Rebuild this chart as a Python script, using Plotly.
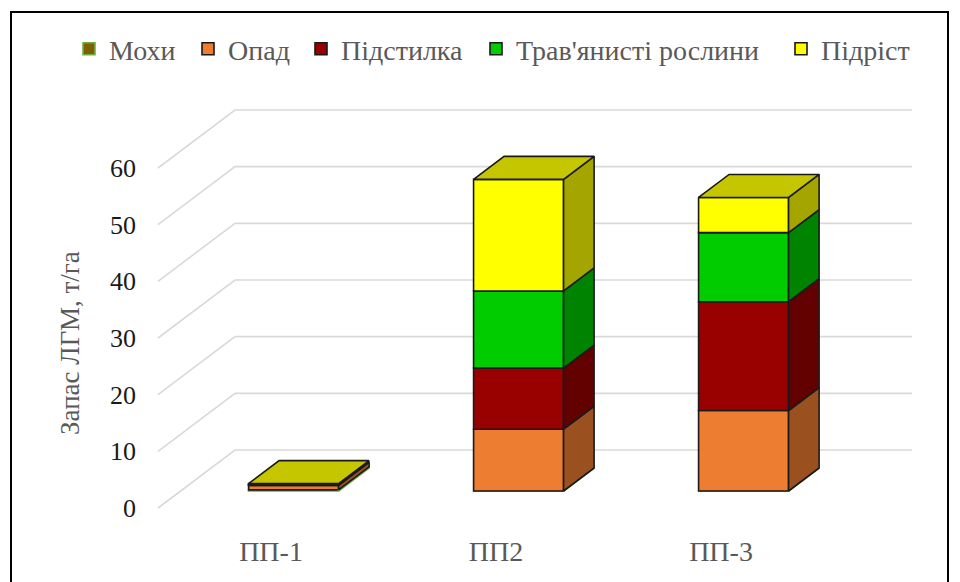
import plotly.graph_objects as go

# ---------------- data ----------------
categories = ["ПП-1", "ПП2", "ПП-3"]
series_names = ["Мохи", "Опад", "Підстилка", "Трав'янисті рослини", "Підріст"]
mokhy = [0.2, 0.0, 0.0]
opad = [0.8, 10.9, 14.2]
pidstylka = [0.1, 10.8, 19.2]
travy = [0.1, 13.6, 12.2]
pidrist = [0.1, 19.7, 6.2]
y_ticks = [0, 10, 20, 30, 40, 50, 60]
y_title = "Запас ЛГМ, т/га"

series_values = [mokhy, opad, pidstylka, travy, pidrist]

# ---------------- styles ----------------
front_colors = ["#7F6000", "#ED7D31", "#990000", "#00CC00", "#FFFF00"]
edge_colors = ["#70AD47", "#1a1a1a", "#1a1a1a", "#1a1a1a", "#1a1a1a"]
FONT = "Liberation Serif, Times New Roman, serif"
EDGE_W = 1.6


def shade(hexcol, k):
    h = hexcol.lstrip("#")
    r, g, b = (int(h[i:i + 2], 16) for i in (0, 2, 4))
    return "rgb(%d,%d,%d)" % (r * k, g * k, b * k)


# projection parameters (oblique 3D look)
PX_X = 225.0          # pixels per category unit
PX_Y = 340.0 / 60.0   # pixels per value unit
DX = 77.0 / PX_X      # wall depth in x units
DY = 58.0 / PX_Y      # wall depth in y units
F0 = 17.0 / 58.0      # depth of bar front face
FD = 23.0 / 58.0      # bar depth fraction
W = 90.0 / PX_X       # bar width
X_LEFT = -113.0 / PX_X
X_RIGHT = 641.0 / PX_X

# plot area in pixels
L, R, T, B = 150, 40, 100, 67
FIG_W, FIG_H = 960, 582
x_range = [(L - 271.0) / PX_X, (FIG_W - R - 271.0) / PX_X]
y_range = [-(FIG_H - B - 508.0) / PX_Y, (508.0 - T) / PX_Y]

fig = go.Figure()

# front faces as bars
cum = [0.0] * len(categories)
bases = []
for s, vals in enumerate(series_values):
    bases.append(list(cum))
    legend_id = "legend" if s == 0 else "legend%d" % (s + 1)
    fig.add_trace(go.Bar(
        x=[i + F0 * DX for i in range(len(categories))],
        y=vals,
        base=[c + F0 * DY for c in cum],
        width=W,
        name=series_names[s],
        marker=dict(color=front_colors[s], line=dict(color=edge_colors[s], width=EDGE_W)),
        legend=legend_id,
        hoverinfo="skip",
    ))
    cum = [c + v for c, v in zip(cum, vals)]

# side and top faces
dxb, dyb = FD * DX, FD * DY
for s, vals in enumerate(series_values):
    for i in range(len(categories)):
        b = bases[s][i] + F0 * DY
        t = b + vals[i]
        xr = i + F0 * DX + W / 2
        xl = i + F0 * DX - W / 2
        fig.add_trace(go.Scatter(
            x=[xr, xr + dxb, xr + dxb, xr, xr],
            y=[b, b + dyb, t + dyb, t, b],
            mode="lines", fill="toself",
            fillcolor=shade(front_colors[s], 0.65),
            line=dict(color=edge_colors[s], width=EDGE_W),
            showlegend=False, hoverinfo="skip",
        ))
        if s == len(series_values) - 1:
            fig.add_trace(go.Scatter(
                x=[xl, xl + dxb, xr + dxb, xr, xl],
                y=[t, t + dyb, t + dyb, t, t],
                mode="lines", fill="toself",
                fillcolor=shade(front_colors[s], 0.78),
                line=dict(color=edge_colors[s], width=EDGE_W),
                showlegend=False, hoverinfo="skip",
            ))

# gridlines on side and back walls
shapes = []
for v in y_ticks:
    shapes.append(dict(
        type="path", xref="x", yref="y", layer="below",
        path="M %f,%f L %f,%f L %f,%f" % (X_LEFT, v, X_LEFT + DX, v + DY, X_RIGHT, v + DY),
        line=dict(color="#D9D9D9", width=1.6),
    ))

plot_w = FIG_W - L - R
plot_h = FIG_H - T - B


def px2paper_x(px):
    return (px - L) / plot_w


def px2paper_y(py):
    return (FIG_H - B - py) / plot_h


# chart border
shapes.append(dict(type="rect", xref="paper", yref="paper",
                   x0=px2paper_x(11), x1=px2paper_x(948),
                   y0=px2paper_y(600), y1=px2paper_y(12),
                   line=dict(color="black", width=2), fillcolor="rgba(0,0,0,0)"))

legend_text_px = [105, 224, 337, 512, 817]
legends = {}
for s, pxt in enumerate(legend_text_px):
    key = "legend" if s == 0 else "legend%d" % (s + 1)
    legends[key] = dict(
        x=px2paper_x(pxt - 36), y=px2paper_y(49), xanchor="left", yanchor="middle",
        orientation="h", bgcolor="rgba(0,0,0,0)",
        font=dict(family=FONT, size=28, color="#595959"),
    )

fig.update_layout(
    width=FIG_W, height=FIG_H,
    margin=dict(l=L, r=R, t=T, b=B),
    paper_bgcolor="white", plot_bgcolor="white",
    barmode="overlay",
    shapes=shapes,
    xaxis=dict(range=x_range, tickvals=list(range(len(categories))), ticktext=categories,
               showgrid=False, zeroline=False, showline=False, ticks="",
               tickfont=dict(family=FONT, size=28, color="#595959"),
               ticklabelstandoff=17, fixedrange=True),
    yaxis=dict(range=y_range, tickvals=y_ticks, showgrid=False, zeroline=False,
               showline=False, ticks="",
               tickfont=dict(family=FONT, size=26, color="#1a1a1a"),
               ticklabelstandoff=13, fixedrange=True),
    annotations=[dict(text=y_title, textangle=-90, xref="paper", yref="paper",
                      x=px2paper_x(70), y=px2paper_y(343), xanchor="center", yanchor="middle",
                      showarrow=False, font=dict(family=FONT, size=27, color="#595959"))],
    **legends,
)

fig.write_html("out.html", post_script="document.body.style.margin='0';",
               config={"displayModeBar": False})
